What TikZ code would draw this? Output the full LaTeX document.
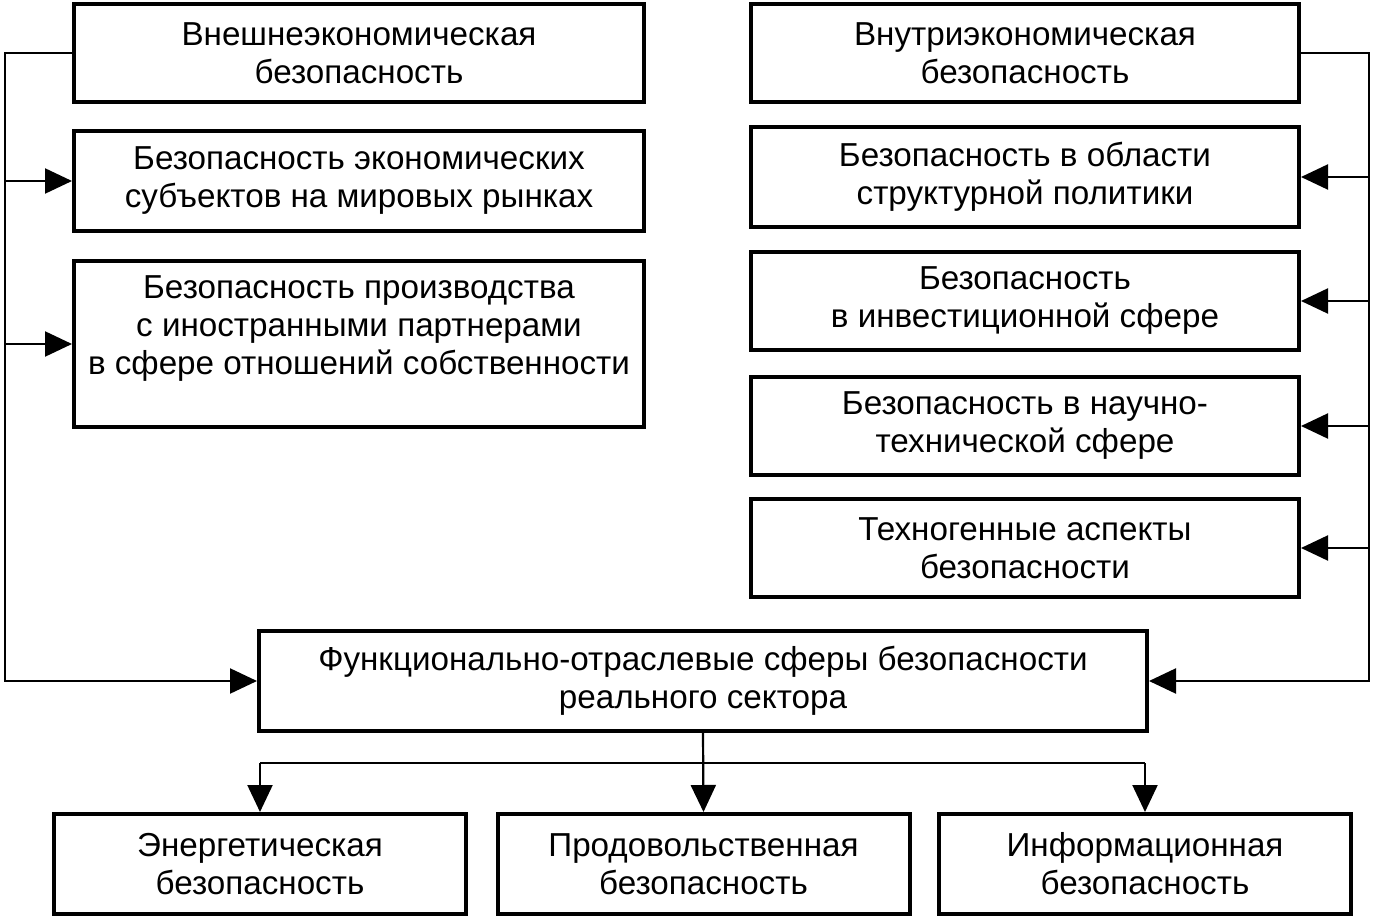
\documentclass[tikz,border=0pt]{standalone}
\usepackage{fontspec}
\setmainfont{Liberation Sans}
\usetikzlibrary{arrows.meta}

\begin{document}
\begin{tikzpicture}[x=0.5pt,y=-0.5pt,
  box/.style={draw,line width=2pt,align=center,inner sep=0pt,font=\fontsize{16.6}{19}\selectfont},
  lbox/.style={box,minimum width=285pt,minimum height=49pt},
  rbox/.style={box,minimum width=274pt,minimum height=49pt},
  bbox/.style={box,minimum width=206pt,minimum height=50pt},
  conn/.style={line width=1.1pt},
  arr/.style={conn,-{Triangle[length=13.5pt,width=12.5pt]}}]
\useasboundingbox (0,0) rectangle (1375,919);
\node[lbox] (vnesh) at (359,53) {Внешнеэкономическая\\безопасность};
\node[lbox,minimum height=50pt] (subj) at (359,181) {Безопасность экономических\\субъектов на мировых рынках};
\node[lbox,minimum height=83pt] (proizv) at (359,344) {Безопасность производства\\с иностранными партнерами\\в сфере отношений собственности\\[0pt]\mbox{}};
\node[rbox] (vnutr) at (1025,53) {Внутриэкономическая\\безопасность};
\node[rbox,minimum height=50pt] (strukt) at (1025,177) {Безопасность в области\\структурной политики};
\node[rbox] (invest) at (1025,301) {Безопасность\\в инвестиционной сфере};
\node[rbox] (nauch) at (1025,426) {Безопасность в научно-\\технической сфере};
\node[rbox] (tehno) at (1025,548) {Техногенные аспекты\\безопасности};
\node[box,minimum width=444pt,minimum height=50pt] (funk) at (703,681) {Функционально-отраслевые сферы безопасности\\реального сектора};
\node[bbox] (energ) at (260,864) {Энергетическая\\безопасность};
\node[bbox] (prod) at (703.5,864) {Продовольственная\\безопасность};
\node[bbox] (inform) at (1145,864) {Информационная\\безопасность};
\coordinate (ltop) at (5,53);
\coordinate (rtop) at (1369,53);
\coordinate (hub) at (705,763);
\draw[arr] (vnesh.west) -- (ltop) -- (ltop |- funk.west) -- (funk.west);
\draw[arr] (ltop |- subj.west) -- (subj.west);
\draw[arr] (ltop |- proizv.west) -- (proizv.west);
\draw[arr] (vnutr.east) -- (rtop) -- (rtop |- funk.east) -- (funk.east);
\draw[arr] (rtop |- strukt.east) -- (strukt.east);
\draw[arr] (rtop |- invest.east) -- (invest.east);
\draw[arr] (rtop |- nauch.east) -- (nauch.east);
\draw[arr] (rtop |- tehno.east) -- (tehno.east);
\draw[arr] (funk.south) -- (prod.north);
\draw[conn] (energ.north |- hub) -- (inform.north |- hub);
\draw[arr] (energ.north |- hub) -- (energ.north);
\draw[arr] (inform.north |- hub) -- (inform.north);
\end{tikzpicture}
\end{document}
